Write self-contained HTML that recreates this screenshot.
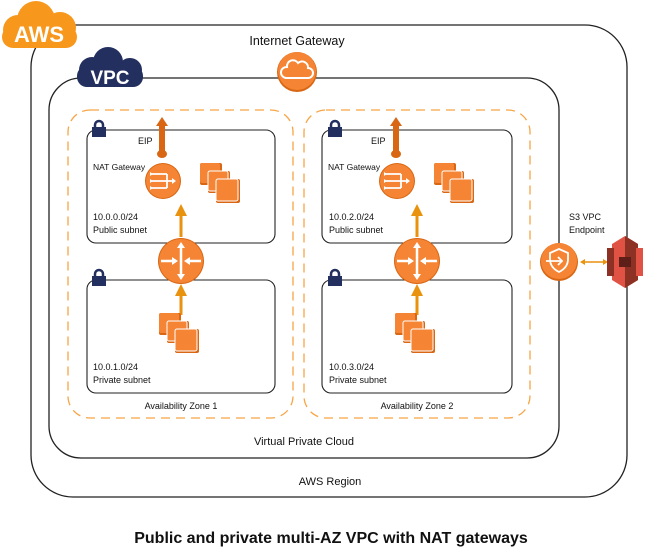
<!DOCTYPE html>
<html><head><meta charset="utf-8"><style>
html,body{margin:0;padding:0;background:#fff;}
svg{display:block;}
text{font-family:"Liberation Sans",sans-serif;fill:#111;}
</style></head><body>
<svg width="646" height="548" viewBox="0 0 646 548">
<defs>
<g id="inst">
<rect x="0" y="0" width="22" height="22" rx="2" fill="#d86613"/><rect x="0" y="0" width="20" height="20" rx="2" fill="#f58534"/>
<rect x="8" y="8" width="22" height="22" rx="2" fill="#d86613"/><rect x="8" y="8" width="20" height="20" rx="2" fill="#f58534" stroke="#fff" stroke-width="1"/>
<rect x="16" y="16" width="24" height="24" rx="2" fill="#d86613"/><rect x="16" y="16" width="22" height="22" rx="2" fill="#f58534" stroke="#fff" stroke-width="1"/>
</g>
<g id="lock"><rect x="0" y="6" width="14" height="10" fill="#232f5e"/><path d="M3 7 V4 a4 4 0 0 1 8 0 V7" fill="none" stroke="#232f5e" stroke-width="2.5"/></g>
<g id="router">
<circle r="23" fill="#d86613"/><circle r="22" fill="#f58534"/>
<path d="M0 -16 V16 M-20 0 H-6 M20 0 H6" stroke="#fff" stroke-width="2.5"/>
<path d="M0 -19 l-4 6 h8z M0 19 l-4 -6 h8z M-3 0 l-6 -4 v8z M3 0 l6 -4 v8z" fill="#fff"/>
</g>
<g id="nat">
<circle r="18" fill="#d86613"/><circle r="17" fill="#f58534"/>
<path d="M-11 -7 H4 M-11 0 H10 M-11 7 H4 M4 -7 V7" stroke="#fff" stroke-width="1.8" fill="none"/>
<path d="M13 0 l-4 -3 v6z M-10 -7 l-3 -2 v4z M-10 0 l-3 -2 v4z M-10 7 l-3 -2 v4z" fill="#fff"/>
</g>
<g id="eip"><rect x="-3" y="-28" width="6" height="28" fill="#d86613"/><path d="M0 -36 l-6 9 h12z" fill="#d86613"/><ellipse cx="0" cy="1" rx="5" ry="4" fill="#d86613"/></g>
</defs>

<!-- AWS region -->
<rect x="31" y="25" width="596" height="472" rx="42" fill="none" stroke="#222" stroke-width="1.3"/>
<!-- AWS cloud -->
<g fill="#f7981d">
<circle cx="18" cy="30" r="15"/><circle cx="36" cy="20" r="19"/><circle cx="60" cy="28" r="16"/><rect x="2" y="26" width="75" height="22" rx="11"/>
</g>
<text x="39" y="42" text-anchor="middle" font-size="22" font-weight="bold" style="fill:#fff">AWS</text>

<!-- VPC -->
<rect x="49" y="78" width="510" height="380" rx="32" fill="none" stroke="#222" stroke-width="1.3"/>
<g fill="#232f5e">
<circle cx="92" cy="70" r="13"/><circle cx="108" cy="62" r="15"/><circle cx="130" cy="70" r="12"/><rect x="77" y="66" width="66" height="21" rx="10"/>
</g>
<text x="110" y="84" text-anchor="middle" font-size="19" font-weight="bold" style="fill:#fff">VPC</text>

<!-- IGW -->
<text x="297" y="45" text-anchor="middle" font-size="12.5">Internet Gateway</text>
<circle cx="297" cy="72" r="20" fill="#d86613"/><circle cx="297" cy="71" r="19" fill="#f58534"/>
<path d="M286 78 h22 a5 5 0 0 0 0 -10 a6 6 0 0 0 -10 -5 a6 6 0 0 0 -11 4 a5 5 0 0 0 -1 11z" fill="none" stroke="#fff" stroke-width="2"/>

<!-- AZs -->
<rect x="68" y="110" width="225" height="308" rx="22" fill="none" stroke="#f7a545" stroke-width="1.3" stroke-dasharray="9,6"/>
<rect x="304" y="110" width="226" height="308" rx="22" fill="none" stroke="#f7a545" stroke-width="1.3" stroke-dasharray="9,6"/>
<text x="181" y="409" text-anchor="middle" font-size="9">Availability Zone 1</text>
<text x="417" y="409" text-anchor="middle" font-size="9">Availability Zone 2</text>
<text x="304" y="445" text-anchor="middle" font-size="11">Virtual Private Cloud</text>
<text x="330" y="485" text-anchor="middle" font-size="11">AWS Region</text>

<!-- AZ1 subnets -->
<rect x="87" y="130" width="188" height="113" rx="9" fill="none" stroke="#222" stroke-width="1.1"/>
<rect x="87" y="280" width="188" height="113" rx="9" fill="none" stroke="#222" stroke-width="1.1"/>
<use href="#lock" x="92" y="121"/><use href="#lock" x="92" y="270"/>
<text x="138" y="144" font-size="9">EIP</text>
<text x="93" y="170" font-size="8.5">NAT Gateway</text>
<text x="93" y="220" font-size="9">10.0.0.0/24</text>
<text x="93" y="233" font-size="9">Public subnet</text>
<text x="93" y="370" font-size="9">10.0.1.0/24</text>
<text x="93" y="383" font-size="9">Private subnet</text>
<use href="#eip" x="162" y="153"/>
<use href="#nat" x="163" y="181"/>
<use href="#inst" x="200" y="163"/>
<path d="M181 237 V214" stroke="#e8920e" stroke-width="3"/><path d="M181 204 l-6 12 h12z" fill="#e8920e"/>
<path d="M181 315 V294" stroke="#e8920e" stroke-width="3"/><path d="M181 284 l-6 12 h12z" fill="#e8920e"/>
<use href="#router" x="181" y="261"/>
<use href="#inst" x="159" y="313"/>

<!-- AZ2 subnets -->
<rect x="322" y="130" width="190" height="113" rx="9" fill="none" stroke="#222" stroke-width="1.1"/>
<rect x="322" y="280" width="190" height="113" rx="9" fill="none" stroke="#222" stroke-width="1.1"/>
<use href="#lock" x="328" y="121"/><use href="#lock" x="328" y="270"/>
<text x="371" y="144" font-size="9">EIP</text>
<text x="328" y="170" font-size="8.5">NAT Gateway</text>
<text x="329" y="220" font-size="9">10.0.2.0/24</text>
<text x="329" y="233" font-size="9">Public subnet</text>
<text x="329" y="370" font-size="9">10.0.3.0/24</text>
<text x="329" y="383" font-size="9">Private subnet</text>
<use href="#eip" x="396" y="153"/>
<use href="#nat" x="397" y="181"/>
<use href="#inst" x="434" y="163"/>
<path d="M417 237 V214" stroke="#e8920e" stroke-width="3"/><path d="M417 204 l-6 12 h12z" fill="#e8920e"/>
<path d="M417 315 V294" stroke="#e8920e" stroke-width="3"/><path d="M417 284 l-6 12 h12z" fill="#e8920e"/>
<use href="#router" x="417" y="261"/>
<use href="#inst" x="395" y="313"/>

<!-- endpoint -->
<text x="569" y="220" font-size="9">S3 VPC</text>
<text x="569" y="233" font-size="9">Endpoint</text>
<circle cx="559" cy="262" r="19" fill="#d86613"/><circle cx="559" cy="261" r="18" fill="#f58534"/>
<path d="M559 249 l9 4 v6 c0 7 -5 11 -9 13 c-4 -2 -9 -6 -9 -13 v-6z" fill="none" stroke="#fff" stroke-width="1.8"/>
<path d="M546 261 h16 M558 257 l4 4 l-4 4" fill="none" stroke="#fff" stroke-width="1.8"/>
<path d="M584 262 H604" stroke="#e8920e" stroke-width="1.5"/>
<path d="M580 262 l5 -3 v6z M608 262 l-5 -3 v6z" fill="#e8920e"/>
<!-- S3 -->
<path d="M612 244 l13 -8 l13 8 v36 l-13 8 l-13 -8z" fill="#e05243"/>
<path d="M625 236 l13 8 v36 l-13 8z" fill="#8c3123"/>
<rect x="607" y="248" width="7" height="28" fill="#8c3123"/>
<rect x="636" y="248" width="7" height="28" fill="#e05243"/>
<rect x="619" y="257" width="12" height="10" fill="#5e1f18"/>

<text x="331" y="543" text-anchor="middle" font-size="16" font-weight="bold">Public and private multi-AZ VPC with NAT gateways</text>
</svg>
</body></html>
